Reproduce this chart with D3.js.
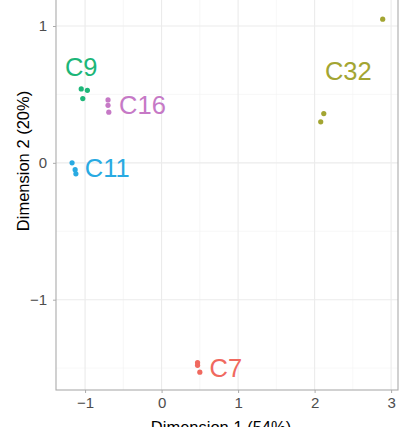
<!DOCTYPE html>
<html>
<head>
<meta charset="utf-8">
<script src="https://cdn.jsdelivr.net/npm/d3@7"></script>
<style>
  body { margin: 0; background: #fff; }
  svg { font-family: "Liberation Sans", Arial, sans-serif; }
</style>
</head>
<body>
<svg id="mds_svg" width="405" height="427"></svg>
<script>
// cluster names, colours and label positions (data units)
var clusters = ["C7", "C32", "C9", "C11", "C16"];
var colors = ["#F0695F", "#A3A532", "#1CB678", "#28AAE2", "#C679C6"];
var labelX = [0.84, 2.44, -1.05, -0.71, -0.25];
var labelY = [-1.50, 0.67, 0.70, -0.04, 0.42];

// samples: cluster index, dim 1, dim 2
var sampleCluster = [0, 0, 0, 1, 1, 1, 2, 2, 2, 3, 3, 3, 4, 4, 4];
var dim1 = [0.47, 0.47, 0.50, 2.89, 2.12, 2.08, -1.05, -0.97, -1.03, -1.17, -1.13, -1.12, -0.70, -0.70, -0.69];
var dim2 = [-1.46, -1.48, -1.53, 1.05, 0.36, 0.30, 0.54, 0.53, 0.47, 0.00, -0.05, -0.08, 0.46, 0.42, 0.37];

var xTicks = [-1, 0, 1, 2, 3];
var xMinor = [-0.5, 0.5, 1.5, 2.5];
var yTicks = [-1, 0, 1];
var yMinor = [-1.5, -0.5, 0.5];

var svg = d3.select("#mds_svg");

var panel_left = 56, panel_right = 398, panel_top = 0, panel_bottom = 390;

var x = d3.scaleLinear().domain([-1.38, 3.09]).range([panel_left, panel_right]);
var y = d3.scaleLinear().domain([-1.66, 1.19]).range([panel_bottom, panel_top]);

var grid = svg.append("g");

grid.selectAll("line.minx").data(xMinor).enter().append("line")
  .attr("x1", function(d){ return x(d) }).attr("x2", function(d){ return x(d) })
  .attr("y1", panel_top).attr("y2", panel_bottom)
  .style("stroke", "#F2F2F2").attr("stroke-width", 0.6);

grid.selectAll("line.miny").data(yMinor).enter().append("line")
  .attr("y1", function(d){ return y(d) }).attr("y2", function(d){ return y(d) })
  .attr("x1", panel_left).attr("x2", panel_right)
  .style("stroke", "#F2F2F2").attr("stroke-width", 0.6);

grid.selectAll("line.majx").data(xTicks).enter().append("line")
  .attr("x1", function(d){ return x(d) }).attr("x2", function(d){ return x(d) })
  .attr("y1", panel_top).attr("y2", panel_bottom)
  .style("stroke", "#EBEBEB").attr("stroke-width", 1.1);

grid.selectAll("line.majy").data(yTicks).enter().append("line")
  .attr("y1", function(d){ return y(d) }).attr("y2", function(d){ return y(d) })
  .attr("x1", panel_left).attr("x2", panel_right)
  .style("stroke", "#EBEBEB").attr("stroke-width", 1.1);

// panel border
svg.append("rect")
  .attr("x", panel_left).attr("y", panel_top - 5)
  .attr("width", panel_right - panel_left).attr("height", panel_bottom - panel_top + 5)
  .style("fill", "none").style("stroke", "#ABABAB").attr("stroke-width", 1.1);

// axes
var xAxis = svg.append("g")
  .attr("transform", "translate(0," + panel_bottom + ")")
  .call(d3.axisBottom(x).tickValues(xTicks).tickSize(3).tickPadding(4).tickFormat(d3.format("d")));

var yAxis = svg.append("g")
  .attr("transform", "translate(" + panel_left + ",0)")
  .call(d3.axisLeft(y).tickValues(yTicks).tickSize(3).tickPadding(6).tickFormat(d3.format("d")));

[xAxis, yAxis].forEach(function(a){
  a.select(".domain").remove();
  a.selectAll(".tick line").style("stroke", "#ABABAB");
  a.selectAll(".tick text").style("fill", "#4D4D4D").style("font-size", "15px")
    .style("font-family", "Liberation Sans, Arial, sans-serif");
});

// points
svg.append("g").selectAll("circle").data(dim1).enter().append("circle")
  .attr("cx", function(d){ return x(d) })
  .attr("cy", function(d, i){ return y(dim2[i]) })
  .attr("r", 2.6)
  .style("fill", function(d, i){ return colors[sampleCluster[i]] });

// cluster labels
svg.append("g").selectAll("text").data(clusters).enter().append("text")
  .attr("x", function(d, i){ return x(labelX[i]) })
  .attr("y", function(d, i){ return y(labelY[i]) })
  .attr("text-anchor", "middle")
  .attr("dominant-baseline", "central")
  .style("font-size", "25.5px")
  .style("fill", function(d, i){ return colors[i] })
  .text(function(d){ return d });

// axis titles
svg.append("text")
  .attr("x", 221).attr("y", 433)
  .attr("text-anchor", "middle")
  .style("font-size", "16.5px").style("fill", "#000")
  .text("Dimension 1 (54%)");

svg.append("text")
  .attr("transform", "translate(29,161) rotate(-90)")
  .attr("text-anchor", "middle")
  .style("font-size", "16.5px").style("fill", "#000")
  .text("Dimension 2 (20%)");
</script>
</body>
</html>
